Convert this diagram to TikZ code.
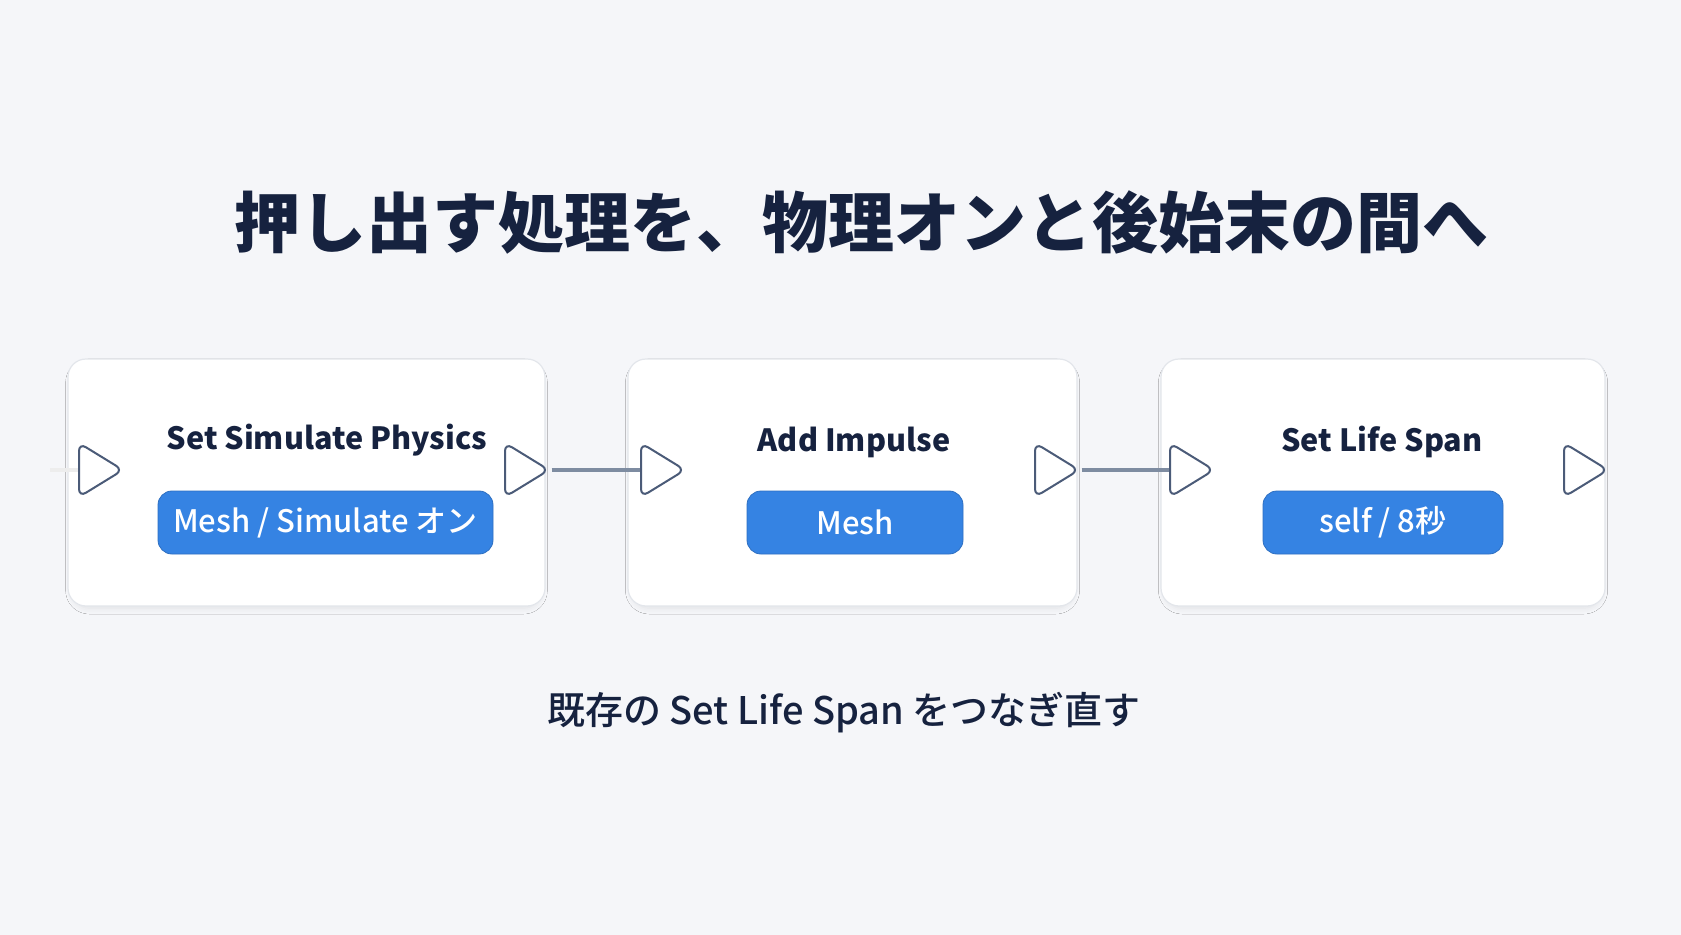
\documentclass[tikz,border=0pt]{standalone}
\usepackage{fontspec}
\setmainfont{Noto Sans CJK JP}
\newfontfamily\mediumfont{Noto Sans CJK JP Medium}
\usetikzlibrary{positioning,shapes.geometric,shadows.blur}
\definecolor{bgcol}{HTML}{F5F6F9}
\definecolor{navy}{HTML}{16223F}
\definecolor{pillblue}{HTML}{3583E3}
\definecolor{pinline}{HTML}{4B5B78}
\definecolor{wirecol}{HTML}{7E8CA1}
\definecolor{cardedge}{HTML}{E3E6EB}
\begin{document}
\begin{tikzpicture}[x=0.5pt,y=-0.5pt] % one unit is one pixel of the reference, y grows downwards
\tikzset{card/.style={draw=cardedge, line width=0.6pt, fill=white, rounded corners=9pt, minimum height=123.5pt, blur shadow={shadow xshift=0pt, shadow yshift=-2pt, shadow scale=0.985, shadow blur radius=3pt, shadow opacity=9}}} % white node body
\tikzset{pill/.style={fill=pillblue, draw=pillblue!85!black, line width=0.4pt, rounded corners=7pt, minimum height=31.5pt, text=white, font=\mediumfont\fontsize{15.5}{15.5}\selectfont}} % blue parameter box
\tikzset{pin/.style={isosceles triangle, isosceles triangle stretches, draw=pinline, line width=1pt, fill=white, rounded corners=4pt, minimum height=22pt, minimum width=27pt, inner sep=0pt, anchor=west}} % exec pin
\tikzset{heading/.style={text=navy, font=\fontsize{15.3}{15.3}\bfseries\selectfont}} % node title
\tikzset{wire/.style={draw=wirecol, line width=2.4pt}} % exec wire
\fill[bgcol] (0,0) rectangle (1681,935);
\useasboundingbox (0,0) rectangle (1681,935);
\node[text=navy, font=\fontsize{33}{33}\bfseries\selectfont] (title) at (861,222) {押し出す処理を、物理オンと後始末の間へ};
% three nodes
\node[card, minimum width=238.5pt] (s1) at (306.5,482.5) {};
\node[card, minimum width=224.5pt] (s2) at (852.5,482.5) {};
\node[card, minimum width=222pt] (s3) at (1383,482.5) {};
\node[heading] (s1head) at (327,440) {Set Simulate Physics};
\node[heading] (s2head) at (854,442) {Add Impulse};
\node[heading] (s3head) at (1382,442) {Set Life Span};
\node[pill, minimum width=167.5pt] (s1pill) at (325.5,522.5) {Mesh / Simulate オン};
\node[pill, minimum width=108pt] (s2pill) at (855,522.5) {Mesh};
\node[pill, minimum width=120pt] (s3pill) at (1383,522.5) {self / 8秒};
% pins
\node[pin] (s1in) at (78,470) {};
\node[pin] (s1out) at (504,470) {};
\node[pin] (s2in) at (640,470) {};
\node[pin] (s2out) at (1034,470) {};
\node[pin] (s3in) at (1169,470) {};
\node[pin] (s3out) at (1563,470) {};
\coordinate (stub) at (50,470);
\draw[draw=black!7, line width=2.4pt] (stub) -- (s1in.west);
\draw[wire] (s1out.apex) -- (s2in.west);
\draw[wire] (s2out.apex) -- (s3in.west);
\node[text=navy, font=\mediumfont\fontsize{19}{19}\selectfont] (note) at (844,713) {既存の Set Life Span をつなぎ直す};
\end{tikzpicture}
\end{document}
